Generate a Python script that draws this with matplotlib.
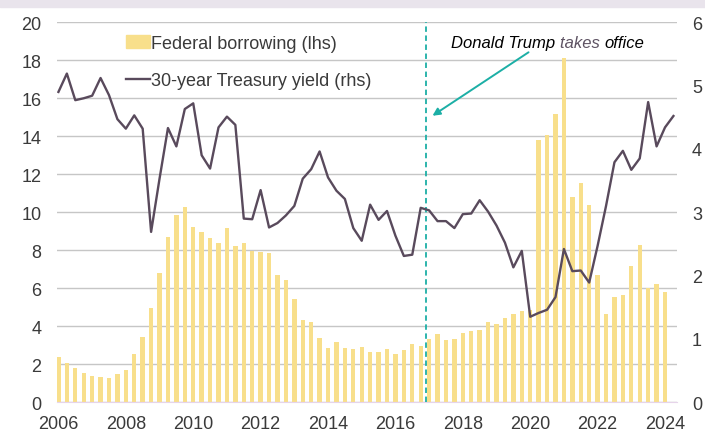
import numpy as np
import matplotlib
matplotlib.use("Agg")
from matplotlib import pyplot as plt
from matplotlib.patches import Rectangle
from matplotlib.lines import Line2D

# quarterly, 2006 Q1 onwards
borrowing = [2.37, 2.05, 1.82, 1.52, 1.38, 1.33, 1.30, 1.49, 1.68, 2.52,
             3.45, 4.98, 6.81, 8.72, 9.86, 10.26, 9.23, 8.98, 8.63, 8.38,
             9.16, 8.24, 8.38, 7.98, 7.89, 7.84, 6.70, 6.44, 5.44, 4.31,
             4.21, 3.37, 2.88, 3.16, 2.84, 2.79, 2.91, 2.63, 2.63, 2.79,
             2.52, 2.75, 3.05, 2.96, 3.33, 3.58, 3.26, 3.31, 3.63, 3.74,
             3.79, 4.21, 4.12, 4.42, 4.65, 4.79, 4.86, 13.82, 14.09, 15.16,
             18.11, 10.79, 11.53, 10.40, 6.70, 4.65, 5.56, 5.65, 7.16, 8.30,
             6.03, 6.21, 5.79]
yield30 = [4.90, 5.19, 4.77, 4.80, 4.84, 5.12, 4.85, 4.47, 4.32, 4.53,
           4.32, 2.69, 3.53, 4.33, 4.04, 4.63, 4.72, 3.90, 3.69, 4.34,
           4.51, 4.38, 2.90, 2.89, 3.35, 2.76, 2.83, 2.95, 3.10, 3.53,
           3.68, 3.96, 3.55, 3.34, 3.21, 2.75, 2.55, 3.12, 2.88, 3.02,
           2.63, 2.31, 2.33, 3.07, 3.03, 2.86, 2.86, 2.75, 2.97, 2.98,
           3.19, 3.01, 2.79, 2.52, 2.13, 2.39, 1.35, 1.41, 1.46, 1.66,
           2.42, 2.07, 2.08, 1.89, 2.47, 3.10, 3.79, 3.97, 3.67, 3.85,
           4.74, 4.04, 4.34, 4.52]
year_labels = ['2006', '2008', '2010', '2012', '2014', '2016', '2018',
               '2020', '2022', '2024']
trump_q = 43.6  # Jan 2017, in quarters from 2006 Q1

BAR = '#F8DF8B'
LINE = '#594A5C'
TEAL = '#1CAFA6'
TXT = '#3A3A3A'

plt.rcParams['font.family'] = ['Liberation Sans', 'DejaVu Sans']
plt.rcParams['font.size'] = 13

fig = plt.figure(figsize=(7.05, 4.35), dpi=100)
ax = fig.add_axes([0.0805, 0.073, 0.8795, 0.8735])
ax2 = ax.twinx()

xb = np.arange(len(borrowing))
xl = np.arange(len(yield30))
ax.bar(xb, borrowing, width=0.52, color=BAR, zorder=2)
ax.set_ylim(0, 20)
ax.set_yticks(range(0, 21, 2))
ax.set_xlim(-0.2, 73.4)
ax.set_xticks(range(0, 73, 8))
ax.set_xticklabels(year_labels)
ax.grid(axis='y', color='#C6C6C6', linewidth=1, zorder=0)
ax.set_axisbelow(True)

ax2.plot(xl, yield30, color=LINE, linewidth=1.7, zorder=3)
ax2.set_ylim(0, 6)
ax2.set_yticks(range(0, 7))
ax2.axvline(trump_q, color=TEAL, linestyle=(0, (3, 2)), linewidth=1.3)

for a in (ax, ax2):
    for s in a.spines.values():
        s.set_visible(False)
    a.tick_params(length=0, labelcolor=TXT, labelsize=13)
ax.spines['bottom'].set_visible(True)
ax.spines['bottom'].set_color('#E6D4EA')
ax.tick_params(axis='y', pad=11)
ax.tick_params(axis='x', pad=9)
ax2.tick_params(axis='y', pad=11)

# annotation
ax2.annotate('', xy=(44.4, 15.08 * 0.3), xytext=(55.8, 18.42 * 0.3),
             arrowprops=dict(arrowstyle='-|>', color=TEAL, lw=1.4,
                             mutation_scale=11, shrinkA=0, shrinkB=0))
t1 = ax.text(46.6, 18.95, 'Donald Trump ', style='italic', fontsize=12,
             color='black', va='center', ha='left')
t2 = ax.annotate('takes ', xy=(1, 0), xycoords=t1, va='bottom', ha='left',
                 style='italic', fontsize=12, color='#5E5363')
ax.annotate('office', xy=(1, 0), xycoords=t2, va='bottom', ha='left',
            style='italic', fontsize=12, color='black')

handles = [Rectangle((0, 0), 1, 1, color=BAR),
           Line2D([], [], color=LINE, linewidth=1.7)]
ax2.legend(handles, ['Federal borrowing (lhs)', '30-year Treasury yield (rhs)'],
           loc='upper left', bbox_to_anchor=(0.112, 0.967), frameon=False,
           borderpad=0, borderaxespad=0, handlelength=1.3, handletextpad=0.1,
           labelspacing=1.13, fontsize=13, labelcolor=TXT)

fig.patches.append(Rectangle((0, 1 - 8 / 435), 1, 8 / 435, transform=fig.transFigure,
                             color='#E9E4EC', zorder=0))

fig.savefig('out.png', dpi=100)
